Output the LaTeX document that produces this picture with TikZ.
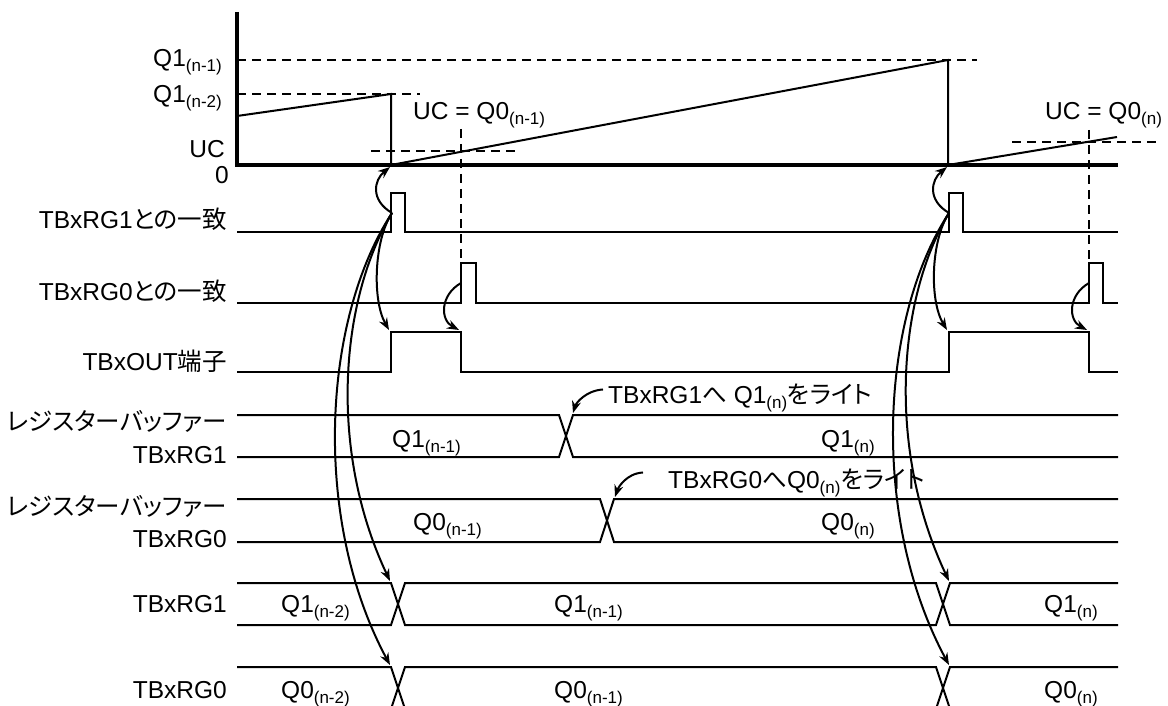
\documentclass[tikz,border=0pt]{standalone}
\usepackage{fontspec}
\setmainfont{Liberation Sans}
\newfontfamily\jpfont{Noto Sans CJK JP}[RawFeature={+palt}]
\newcommand{\jptext}[1]{{\jpfont #1}}
\newcommand{\nsub}[1]{\raisebox{-5pt}{\fontsize{17}{17}\selectfont #1}}
\usetikzlibrary{arrows.meta}
\begin{document}
\begin{tikzpicture}[x=1pt, y=-1pt, line join=miter,
		sig/.style={line width=2pt},
		axisline/.style={line width=3.8pt},
		guide/.style={line width=2pt, dash pattern=on 9pt off 6pt},
		evt/.style={line width=2pt, -{Stealth[length=12pt,width=9pt]}},
		lbl/.style={inner sep=0pt, font=\fontsize{24.5}{27}\selectfont}]
	\useasboundingbox (0,0) rectangle (1168,706);
	\clip (0,0) rectangle (1168,706);
	
	% 1. Trục và bộ đếm
	\draw[axisline] (237,12) -- (237,165) -- (1118,165);
	\draw[guide] (237,60) -- (977,60);
	\draw[guide] (237,94) -- (420,94);
	\draw[guide] (371,151) -- (518,151);
	\draw[guide] (1012,142) -- (1160,142);
	\draw[guide] (461,129) -- (461,263);
	\draw[guide] (1089,130) -- (1089,263);
	\draw[sig] (237,116) -- (391,94) -- (391,165) -- (948,60) -- (948,165) -- (1117,137);
	
	\node[lbl, anchor=base east] (qa) at (222,67) {Q1\nsub{(n-1)}};
	\node[lbl, anchor=base east] (qb) at (222,103) {Q1\nsub{(n-2)}};
	\node[lbl, anchor=base east] (uc) at (225,158) {UC};
	\node[lbl, anchor=base east] (zero) at (229,183) {0};
	\node[lbl, anchor=base west] (ucq0a) at (413,120) {UC = Q0\nsub{(n-1)}};
	\node[lbl, anchor=base west] (ucq0b) at (1045,120) {UC = Q0\nsub{(n)}};
	
	% 2. Các tín hiệu
	\draw[sig] (237,232) -- (391,232) -- (391,193) -- (405,193) -- (405,232) -- (949,232) -- (949,193) -- (963,193) -- (963,232) -- (1118,232);
	\draw[sig] (237,303) -- (461,303) -- (461,263) -- (476,263) -- (476,303) -- (1089,303) -- (1089,263) -- (1103,263) -- (1103,303) -- (1118,303);
	\draw[sig] (237,372) -- (391,372) -- (391,332) -- (461,332) -- (461,372) -- (949,372) -- (949,332) -- (1089,332) -- (1089,372) -- (1118,372);
	
	\node[lbl, anchor=base east] (m1) at (227,229) {TBxRG1\jptext{との一致}};
	\node[lbl, anchor=base east] (m0) at (227,300) {TBxRG0\jptext{との一致}};
	\node[lbl, anchor=base east] (out) at (227,370) {TBxOUT\jptext{端子}};
	
	% 3. Thanh ghi đệm và thanh ghi
	\draw[sig] (237,415) -- (559,415) -- (573,457) -- (1118,457);
	\draw[sig] (237,457) -- (559,457) -- (573,415) -- (1118,415);
	\draw[sig] (237,499) -- (600,499) -- (614,542) -- (1118,542);
	\draw[sig] (237,542) -- (600,542) -- (614,499) -- (1118,499);
	\draw[sig] (237,583) -- (391,583) -- (405,625) -- (936,625) -- (950,583) -- (1118,583);
	\draw[sig] (237,625) -- (391,625) -- (405,583) -- (936,583) -- (950,625) -- (1118,625);
	\draw[sig] (237,667) -- (391,667) -- (405,709) -- (936,709) -- (950,667) -- (1118,667);
	\draw[sig] (237,709) -- (391,709) -- (405,667) -- (936,667) -- (950,709) -- (1118,709);
	
	\node[lbl, anchor=base east] (b1a) at (227,430) {\jptext{レジスターバッファー}};
	\node[lbl, anchor=base east] (b1b) at (227,463) {TBxRG1};
	\node[lbl, anchor=base east] (b0a) at (227,515) {\jptext{レジスターバッファー}};
	\node[lbl, anchor=base east] (b0b) at (227,547) {TBxRG0};
	\node[lbl, anchor=base east] (r1) at (227,612) {TBxRG1};
	\node[lbl, anchor=base east] (r0) at (227,698) {TBxRG0};
	
	\node[lbl, anchor=base west] (b1v1) at (392,447) {Q1\nsub{(n-1)}};
	\node[lbl, anchor=base west] (b1v2) at (821,447) {Q1\nsub{(n)}};
	\node[lbl, anchor=base west] (b0v1) at (413,530) {Q0\nsub{(n-1)}};
	\node[lbl, anchor=base west] (b0v2) at (821,530) {Q0\nsub{(n)}};
	\node[lbl, anchor=base west] (r1v0) at (281,612) {Q1\nsub{(n-2)}};
	\node[lbl, anchor=base west] (r1v1) at (554,612) {Q1\nsub{(n-1)}};
	\node[lbl, anchor=base west] (r1v2) at (1044,612) {Q1\nsub{(n)}};
	\node[lbl, anchor=base west] (r0v0) at (281,698) {Q0\nsub{(n-2)}};
	\node[lbl, anchor=base west] (r0v1) at (554,698) {Q0\nsub{(n-1)}};
	\node[lbl, anchor=base west] (r0v2) at (1044,698) {Q0\nsub{(n)}};
	
	% 4. Ghi chú ghi vào thanh ghi đệm
	\node[lbl, anchor=base west] (wr1) at (608,403) {TBxRG1\jptext{へ} Q1\nsub{(n)}\jptext{をライト}};
	\node[lbl, anchor=base west] (wr0) at (668,488) {TBxRG0\jptext{へ}Q0\nsub{(n)}\jptext{をライト}};
	\coordinate (x1) at (573,413);
	\coordinate (x0) at (615,497);
	\draw[evt] (wr1.west) ++(-5,-8) .. controls +(-17,1) and (576,403) .. (x1);
	\draw[evt] (wr0.west) ++(-25,-10) .. controls +(-17,1) and (618,488) .. (x0);
	
	% 5. Các mũi tên sự kiện
	\coordinate (p1) at (392,213);
	\coordinate (p2) at (949,213);
	\coordinate (q1) at (461,283);
	\coordinate (q2) at (1089,283);
	\coordinate (z1) at (390,167);
	\coordinate (z2) at (947,167);
	\coordinate (o1) at (389,330);
	\coordinate (o2) at (947,330);
	\coordinate (f1) at (459,330);
	\coordinate (f2) at (1087,330);
	\coordinate (s1) at (390,581);
	\coordinate (s2) at (949,581);
	\coordinate (t1) at (390,665);
	\coordinate (t2) at (949,665);
	
	\draw[evt] (p1) .. controls (370,200) and (374,180) .. (z1);
	\draw[evt] (p2) .. controls (927,200) and (931,180) .. (z2);
	\draw[evt] (p1) .. controls (374,240) and (372,300) .. (o1);
	\draw[evt] (p2) .. controls (931,240) and (929,300) .. (o2);
	\draw[evt] (q1) .. controls (440,295) and (440,320) .. (f1);
	\draw[evt] (q2) .. controls (1068,295) and (1068,320) .. (f2);
	\draw[evt] (p1) .. controls (340,300) and (328,450) .. (s1);
	\draw[evt] (p2) .. controls (897,300) and (887,450) .. (s2);
	\draw[evt] (p1) .. controls (322,320) and (312,520) .. (t1);
	\draw[evt] (p2) .. controls (879,320) and (871,520) .. (t2);
\end{tikzpicture}
\end{document}
